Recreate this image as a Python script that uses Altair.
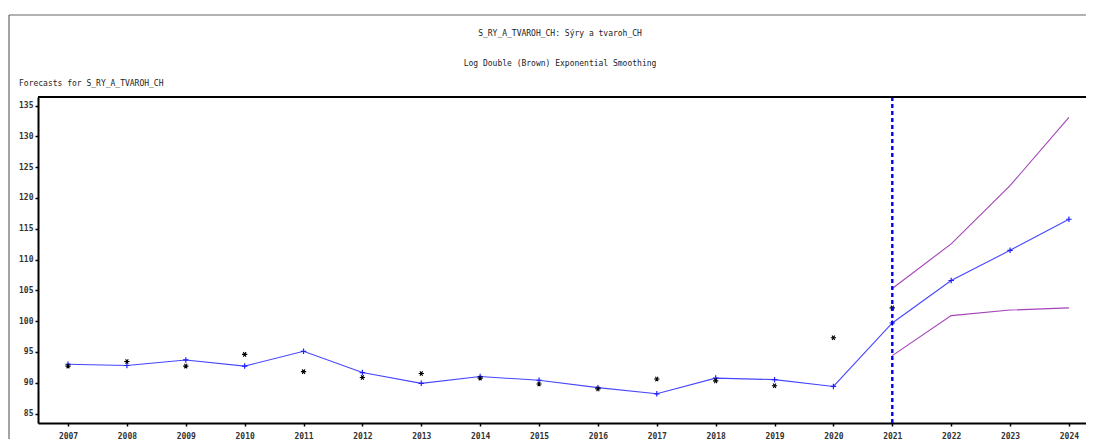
import altair as alt
import pandas as pd

# ---- data ----
years = list(range(2007, 2025))
fitted = [93.0, 92.8, 93.7, 92.7, 95.1, 91.65, 89.9, 91.0, 90.4, 89.2, 88.2,
          90.75, 90.5, 89.4, 99.7, 106.6, 111.5, 116.55]
actual_years = list(range(2007, 2022))
actual = [92.7, 93.45, 92.7, 94.6, 91.8, 90.85, 91.5, 90.75, 89.8, 89.0, 90.6,
          90.3, 89.5, 97.3, 102.15]
band_years = [2021, 2022, 2023, 2024]
upper = [105.3, 112.55, 122.0, 133.1]
lower = [94.4, 100.9, 101.8, 102.15]
forecast_start = [2021]
y_ticks = [85, 90, 95, 100, 105, 110, 115, 120, 125, 130, 135]
title_1 = "S_RY_A_TVAROH_CH: Sýry a tvaroh_CH"
title_2 = "Log Double (Brown) Exponential Smoothing"
title_3 = "Forecasts for S_RY_A_TVAROH_CH"

# ---- layout ----
W, H = 1048, 326
FONT = "DejaVu Sans Mono"

df_fit = pd.DataFrame({"year": years, "value": fitted})
df_act = pd.DataFrame({"year": actual_years, "value": actual})
df_band = pd.concat([
    pd.DataFrame({"year": band_years, "value": upper, "band": "upper"}),
    pd.DataFrame({"year": band_years, "value": lower, "band": "lower"}),
])
df_vline = pd.DataFrame({"year": forecast_start})
one = pd.DataFrame({"a": [0]})

xs = alt.Scale(domain=[2006.49, 2024.29], nice=False, zero=False)
ys = alt.Scale(domain=[83.46, 136.4], nice=False, zero=False)

x_axis = alt.Axis(values=years, format="d", title=None, grid=False,
                  labelFont=FONT, labelFontSize=8, labelFontWeight="bold",
                  labelColor="#333333", domainColor="black", domainWidth=2,
                  tickColor="black", tickSize=3, tickWidth=1.5, labelPadding=6,
                  labelFlush=False, labelOverlap=False)
y_axis = alt.Axis(values=y_ticks, title=None, grid=False,
                  labelFont=FONT, labelFontSize=8, labelFontWeight="bold",
                  labelColor="#333333", domainColor="black", domainWidth=2,
                  tickColor="black", tickSize=3, tickWidth=1.5, labelPadding=2,
                  labelFlush=False, labelOverlap=False)

X = alt.X("year:Q", scale=xs, axis=x_axis)
Y = alt.Y("value:Q", scale=ys, axis=y_axis)

fit_line = alt.Chart(df_fit).mark_line(color="#4646ff", strokeWidth=1.1).encode(x=X, y=Y)
PLUS = "M-1,0L1,0M0,-1L0,1"
fit_pts = alt.Chart(df_fit).mark_point(shape=PLUS, size=30, filled=False,
                                       color="#2020ff", strokeWidth=1.2, opacity=1).encode(x=X, y=Y)
STAR = "M-1,0L1,0M-0.5,-0.866L0.5,0.866M-0.5,0.866L0.5,-0.866"
act_pts = alt.Chart(df_act).mark_point(shape=STAR, size=28, filled=False,
                                       color="black", strokeWidth=1.1, opacity=1).encode(x=X, y=Y)
band = alt.Chart(df_band).mark_line(color="#a444b8", strokeWidth=1.1).encode(
    x=X, y=Y, detail="band:N")
vline = alt.Chart(df_vline).mark_rule(color="#0000ff", strokeWidth=2.4,
                                      strokeDash=[4, 3]).encode(x=X)
top_border = alt.Chart(one).mark_rule(color="black", strokeWidth=2).encode(
    x=alt.value(0), x2=alt.value(W), y=alt.value(0))
frame_top = alt.Chart(one).mark_rule(color="#666666", strokeWidth=1.2).encode(
    x=alt.value(-29), x2=alt.value(W + 20), y=alt.value(-82))
frame_left = alt.Chart(one).mark_rule(color="#666666", strokeWidth=1.2).encode(
    x=alt.value(-29), y=alt.value(-82), y2=alt.value(H + 40))

def txt(s, x, y, align):
    return alt.Chart(one).mark_text(text=s, font=FONT, fontSize=8, align=align,
                                    baseline="middle", color="#222222").encode(
        x=alt.value(x), y=alt.value(y))

chart = alt.layer(
    band, fit_line, fit_pts, act_pts, vline,
    frame_top, frame_left,
    txt(title_1, 522, -63, "center"),
    txt(title_2, 522, -33, "center"),
    txt(title_3, -19, -13, "left"),
    top_border,
).properties(
    width=W, height=H,
    autosize=alt.AutoSizeParams(type="none"),
    padding={"left": 30, "top": 89, "right": 0, "bottom": 16},
).configure_view(stroke="transparent").configure(background="white")

chart.save("out.html", embed_options={"renderer": "svg", "actions": False})
